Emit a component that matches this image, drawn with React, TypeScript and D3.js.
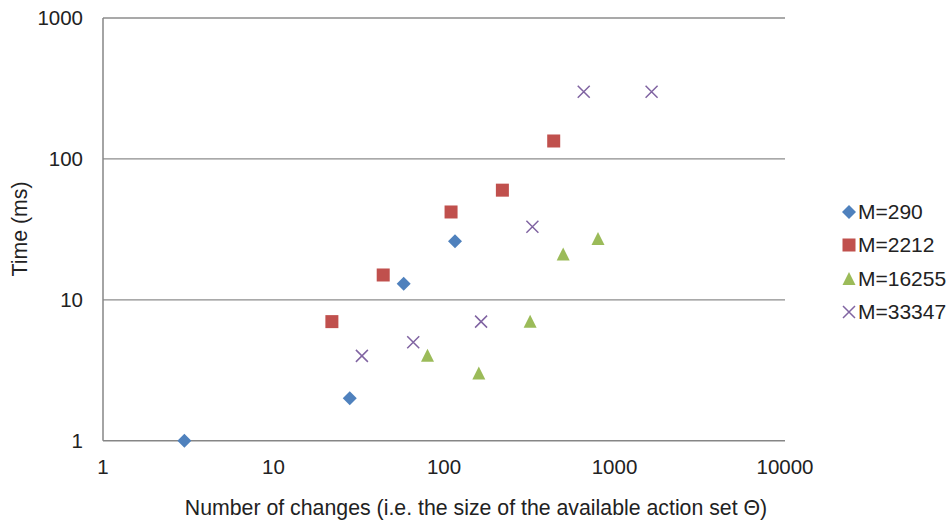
import React from "react";
import * as d3 from "d3";

const seriesNames = ["M=290", "M=2212", "M=16255", "M=33347"];
const m290X = [3, 28, 58, 116];
const m290Y = [1, 2, 13, 26];
const m2212X = [22, 44, 110, 220, 440];
const m2212Y = [7, 15, 42, 60, 134];
const m16255X = [80, 160, 320, 500, 800];
const m16255Y = [4, 3, 7, 21, 27];
const m33347X = [33, 66, 165, 330, 660, 1650];
const m33347Y = [4, 5, 7, 33, 300, 300];
const xTicks = [1, 10, 100, 1000, 10000];
const yTicks = [1, 10, 100, 1000];

const colors = ["#4F81BD", "#C0504D", "#9BBB59", "#8064A2"];
const symbols = ["diamond", "square", "triangle", "x"];

const W = 949, H = 520;
const left = 103, right = 785, top = 18, bottom = 440.7;
const font = "'Liberation Sans', Arial, sans-serif";
const fs = 20.5;
const fsTitle = 21.3;
const fsLegend = 21;

function Marker({ kind, x, y, color }: { kind: string; x: number; y: number; color: string }) {
  if (kind === "diamond") {
    const r = 7;
    return <path d={`M${x},${y - r}L${x + r},${y}L${x},${y + r}L${x - r},${y}Z`} fill={color} />;
  }
  if (kind === "square") {
    const s = 13;
    return <rect x={x - s / 2} y={y - s / 2} width={s} height={s} fill={color} />;
  }
  if (kind === "triangle") {
    const w = 13, h = 12;
    return <path d={`M${x},${y - h / 2 - 1}L${x + w / 2},${y + h / 2}L${x - w / 2},${y + h / 2}Z`} fill={color} />;
  }
  const r = 6;
  return (
    <path d={`M${x - r},${y - r}L${x + r},${y + r}M${x - r},${y + r}L${x + r},${y - r}`} stroke={color} strokeWidth={1.5} fill="none" />
  );
}

export default function App() {
  const xs = d3.scaleLog().domain([1, 10000]).range([left, right]);
  const ys = d3.scaleLog().domain([1, 1000]).range([bottom, top]);
  const data = [
    [m290X, m290Y],
    [m2212X, m2212Y],
    [m16255X, m16255Y],
    [m33347X, m33347Y],
  ];
  const legendY = [212, 245, 279, 312];
  return (
    <svg width={W} height={H} style={{ position: "absolute", left: 0, top: 0, background: "#fff" }}>
      {yTicks.map((t) =>
        t === 1 ? null : (
          <line key={"g" + t} x1={left} x2={right} y1={ys(t)} y2={ys(t)} stroke="#8c8c8c" strokeWidth={1.3} />
        )
      )}
      <line x1={left} x2={left} y1={top} y2={bottom} stroke="#868686" strokeWidth={1.5} />
      <line x1={left} x2={right} y1={bottom} y2={bottom} stroke="#868686" strokeWidth={1.5} />
      {yTicks.map((t) => (
        <text key={"yt" + t} x={83} y={ys(t)} dy="0.35em" textAnchor="end" fontFamily={font} fontSize={fs} fill="#222">
          {t}
        </text>
      ))}
      {xTicks.map((t) => (
        <text key={"xt" + t} x={xs(t)} y={467} dy="0.35em" textAnchor="middle" fontFamily={font} fontSize={fs} fill="#222">
          {t}
        </text>
      ))}
      <text x={476} y={508} dy="0.35em" textAnchor="middle" fontFamily={font} fontSize={fsTitle} fill="#222">
        Number of changes (i.e. the size of the available action set Θ)
      </text>
      <text transform={`translate(20,229) rotate(-90)`} dy="0.35em" textAnchor="middle" fontFamily={font} fontSize={fsTitle} fill="#222">
        Time (ms)
      </text>
      {data.map(([dx, dy], i) =>
        dx.map((v, j) => (
          <Marker key={i + "-" + j} kind={symbols[i]} x={xs(v)} y={ys(dy[j])} color={colors[i]} />
        ))
      )}
      {seriesNames.map((n, i) => (
        <g key={n}>
          <Marker kind={symbols[i]} x={849} y={legendY[i]} color={colors[i]} />
          <text x={858} y={legendY[i]} dy="0.35em" fontFamily={font} fontSize={fsLegend} fill="#222">
            {n}
          </text>
        </g>
      ))}
    </svg>
  );
}
